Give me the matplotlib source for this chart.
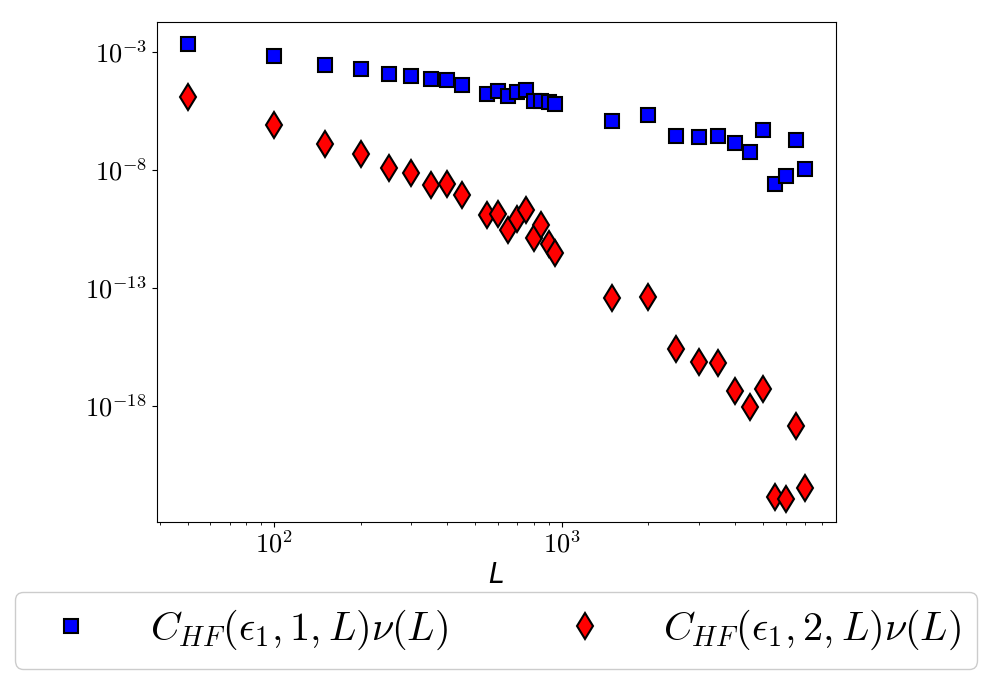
import numpy as np
import matplotlib
matplotlib.use("Agg")
import matplotlib.pyplot as plt

plt.rcParams["mathtext.fontset"] = "cm"

L = [50, 100, 150, 200, 250, 300, 350, 400, 450, 550, 600, 650, 700, 750,
     800, 850, 900, 950, 1500, 2000, 2500, 3000, 3500, 4000, 4500, 5000,
     5500, 6000, 6500, 7000]

# log10 values
log_c1 = [-2.69, -3.16, -3.54, -3.71, -3.93, -4.03, -4.17, -4.20, -4.39, -4.77,
          -4.67, -4.88, -4.71, -4.64, -5.09, -5.09, -5.13, -5.23, -5.94, -5.69,
          -6.58, -6.62, -6.58, -6.86, -7.25, -6.33, -8.59, -8.27, -6.75, -7.96]
log_c2 = [-4.91, -6.12, -6.89, -7.31, -7.94, -8.13, -8.65, -8.58, -9.08, -9.89,
          -9.86, -10.56, -10.08, -9.71, -10.88, -10.32, -11.12, -11.52, -13.42,
          -13.36, -15.58, -16.14, -16.18, -17.34, -18.04, -17.28, -21.83, -21.93,
          -18.85, -21.47]

yticks = [1e-3, 1e-8, 1e-13, 1e-18]
ytick_labels = [r"$10^{-3}$", r"$10^{-8}$", r"$10^{-13}$", r"$10^{-18}$"]
xticks = [1e2, 1e3]
xtick_labels = [r"$10^{2}$", r"$10^{3}$"]

c1 = 10.0 ** np.array(log_c1)
c2 = 10.0 ** np.array(log_c2)

fig = plt.figure(figsize=(9.93, 6.84), dpi=100)
ax = fig.add_axes([156.7 / 993, 1 - 521.7 / 684, 679 / 993, 500 / 684])

ax.plot(L, c1, "s", color="blue", mec="black", mew=1.5, ms=9.5,
        label=r"$C_{HF}(\epsilon_1,1,L)\nu(L)$")
ax.plot(L, c2, "d", color="red", mec="black", mew=1.5, ms=13.5,
        label=r"$C_{HF}(\epsilon_1,2,L)\nu(L)$")

ax.set_xscale("log")
ax.set_yscale("log")
ax.yaxis.set_minor_locator(matplotlib.ticker.NullLocator())
ax.set_yticks(yticks)
ax.set_yticklabels(ytick_labels)
ax.set_xticks(xticks)
ax.set_xticklabels(xtick_labels)
ax.tick_params(axis="both", which="major", labelsize=19)

ax.set_xlabel("L", fontstyle="italic", fontsize=20, labelpad=2)

ax.legend(loc="upper center", bbox_to_anchor=(0.4997, -0.1406), borderaxespad=0,
          ncol=2, fontsize=29, handletextpad=0.95, columnspacing=2.4,
          edgecolor="#cccccc", framealpha=1)

fig.savefig("out.png", dpi=100)
